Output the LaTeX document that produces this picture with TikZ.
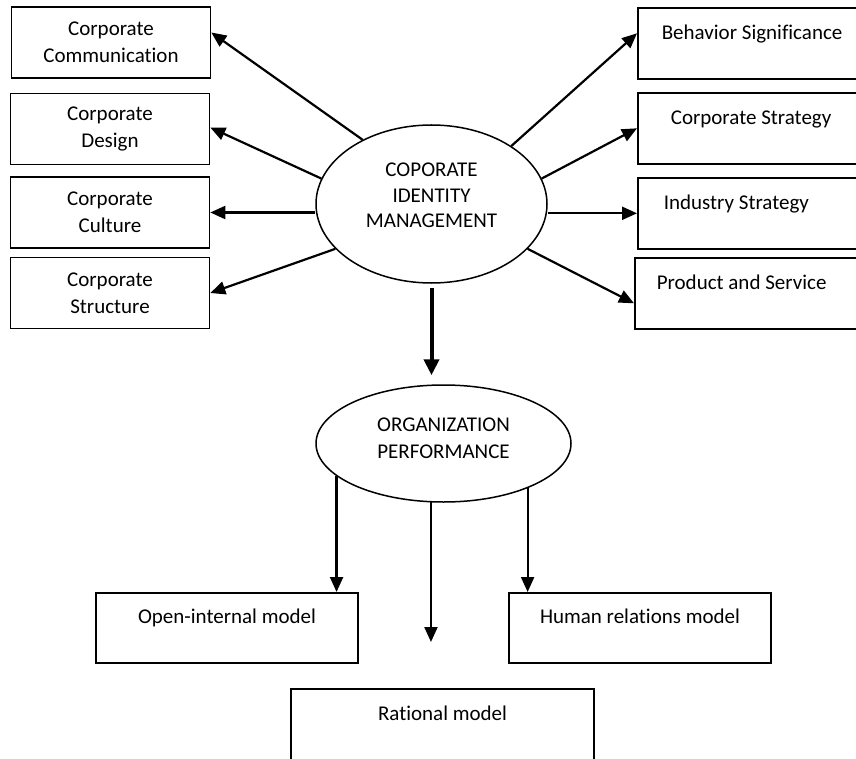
\documentclass[tikz,border=0pt]{standalone}
\usepackage{fontspec}
\setmainfont[Ligatures=NoCommon]{Carlito}
\usetikzlibrary{arrows.meta, shapes.geometric, positioning}

\begin{document}
\begin{tikzpicture}[
    x=1pt, y=-1pt,
    every node/.style={font=\fontsize{21}{26}\selectfont},
    sidebox/.style={draw, line width=1.6pt, minimum width=199pt, minimum height=71pt, align=center, inner sep=0pt, font=\fontsize{21}{27}\selectfont},
    rightbox/.style={draw, line width=1.6pt, anchor=north west, text width=200pt, align=flush left, inner xsep=26pt, inner ysep=0pt, text height=32pt, text depth=39pt},
    modelbox/.style={draw, line width=1.6pt, anchor=north, inner ysep=0pt, text height=31pt, text depth=39pt},
    hub/.style={draw, ellipse, line width=1.5pt, align=center, inner sep=0pt},
    link/.style={-{Triangle[length=15pt,width=13pt]}, line width=2.2pt},
    ]
    \useasboundingbox (0,0) rectangle (856,759);

    % Left column
    \node[sidebox] (ccom) at (111,42.5) {Corporate\\Communication};
    \node[sidebox] (cdes) at (110,129) {Corporate\\Design};
    \node[sidebox, text depth=0pt] (ccul) at (110,212.5) {Corporate\\Culture};
    \node[sidebox] (cstu) at (110,293) {Corporate\\Structure};

    % Right column
    \node[rightbox, inner xsep=24pt] (bsig) at (637,7) {Behavior Significance};
    \node[rightbox, inner xsep=33pt] (cstr) at (637,92) {Corporate Strategy};
    \node[rightbox] (istr) at (637,177) {Industry Strategy};
    \node[rightbox, inner xsep=22pt] (pser) at (634,257) {Product and Service};

    % Ellipses
    \node[hub, minimum width=231pt, minimum height=158pt, text height=65pt, text depth=17pt, font=\fontsize{21}{25.5}\selectfont] (cim) at (431.5,204) {COPORATE\\IDENTITY\\MANAGEMENT};
    \node[hub, minimum width=255pt, minimum height=117pt, text height=41.5pt, text depth=11.5pt, font=\fontsize{21}{27.5}\selectfont] (orgp) at (443.5,443.5) {ORGANIZATION\\PERFORMANCE};

    % Models
    \node[modelbox, minimum width=262pt] (oim) at (227,592) {Open-internal model};
    \node[modelbox, minimum width=262pt] (hrm) at (640,592) {Human relations model};
    \node[modelbox, minimum width=303pt, text height=32pt, text depth=40pt] (ratm) at (442.5,688) {Rational model};

    % Arrows out of the identity ellipse
    \draw[link] (cim.137) -- ([yshift=10pt]ccom.east);
    \draw[link] (cim.167) -- ([yshift=1.5pt]cdes.east);
    \draw[link] (cim.west |- ccul.east) -- (ccul.east);
    \draw[link] (cim.205) -- (cstu.east);
    \draw[link] (cim.36) -- ([yshift=10pt]bsig.west);
    \draw[link] (cim.13) -- (cstr.west);
    \draw[link] (cim.east |- istr.west) -- (istr.west);
    \draw[link] (cim.335) -- ([yshift=-10pt]pser.west);

    \draw[link, line width=4pt, -{Triangle[length=16pt,width=15pt]}, shorten <=4pt, shorten >=9pt] (cim.south) -- (cim.south |- orgp.north);

    % Arrows out of the performance ellipse
    \draw[link] (orgp.197) -- (orgp.197 |- oim.north);
    \draw[link, shorten >=46pt] (orgp.258) -- (orgp.258 |- ratm.north);
    \draw[link] (orgp.332) -- (orgp.332 |- hrm.north);

\end{tikzpicture}
\end{document}
